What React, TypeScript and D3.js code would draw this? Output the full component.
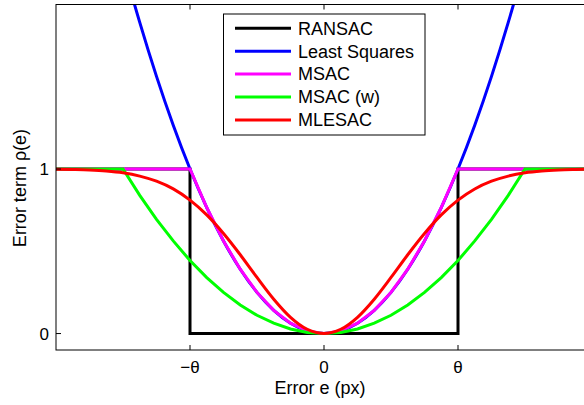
import React from "react";
import * as d3 from "d3";

// Error values e (in units of θ)
const errors = [-2, -1.875, -1.75, -1.625, -1.5, -1.375, -1.25, -1.125, -1, -0.875, -0.75, -0.625, -0.5, -0.375, -0.25, -0.125, 0,
  0.125, 0.25, 0.375, 0.5, 0.625, 0.75, 0.875, 1, 1.125, 1.25, 1.375, 1.5, 1.625, 1.75, 1.875, 2];

const leastSquares = [4, 3.516, 3.063, 2.641, 2.25, 1.891, 1.563, 1.266, 1, 0.766, 0.563, 0.391, 0.25, 0.141, 0.063, 0.016, 0,
  0.016, 0.063, 0.141, 0.25, 0.391, 0.563, 0.766, 1, 1.266, 1.563, 1.891, 2.25, 2.641, 3.063, 3.516, 4];

const msac = [1, 1, 1, 1, 1, 1, 1, 1, 1, 0.766, 0.563, 0.391, 0.25, 0.141, 0.063, 0.016, 0,
  0.016, 0.063, 0.141, 0.25, 0.391, 0.563, 0.766, 1, 1, 1, 1, 1, 1, 1, 1, 1];

const msacW = [1, 1, 1, 1, 1, 0.84, 0.694, 0.563, 0.444, 0.34, 0.25, 0.174, 0.111, 0.063, 0.028, 0.007, 0,
  0.007, 0.028, 0.063, 0.111, 0.174, 0.25, 0.34, 0.444, 0.563, 0.694, 0.84, 1, 1, 1, 1, 1];

const mlesac = [0.999, 0.997, 0.994, 0.988, 0.977, 0.957, 0.926, 0.879, 0.811, 0.721, 0.608, 0.479, 0.341, 0.209, 0.099, 0.026, 0,
  0.026, 0.099, 0.209, 0.341, 0.479, 0.608, 0.721, 0.811, 0.879, 0.926, 0.957, 0.977, 0.988, 0.994, 0.997, 0.999];

const ransacE = [-2, -1, -1, 1, 1, 2];
const ransacV = [1, 1, 0, 0, 1, 1];

const seriesNames = ["RANSAC", "Least Squares", "MSAC", "MSAC (w)", "MLESAC"];
const seriesColors = ["#000000", "#0000ff", "#ff00ff", "#00ff00", "#ff0000"];

const xTickValues = [-1, 0, 1];
const xTickLabels = ["\u2212\u03b8", "0", "\u03b8"];
const yTickValues = [0, 1];
const yTickLabels = ["0", "1"];

const W = 584;
const H = 405;
const left = 56, right = 592, top = 4.5, bottom = 350;

export default function App() {
  const x = d3.scaleLinear().domain([-2, 2]).range([left, right]);
  const y = d3.scaleLinear().domain([-0.1, 2]).range([bottom, top]);
  const line = d3.line<[number, number]>().x((d) => x(d[0])).y((d) => y(d[1]));
  const smooth = d3.line<[number, number]>().x((d) => x(d[0])).y((d) => y(d[1])).curve(d3.curveMonotoneX);

  const zip = (es: number[], vs: number[]) => es.map((e, i) => [e, vs[i]] as [number, number]);
  const paths = [
    line(zip(ransacE, ransacV)),
    smooth(zip(errors, leastSquares)),
    line(zip(errors, msac)),
    line(zip(errors, msacW)),
    smooth(zip(errors, mlesac)),
  ];

  const font = "'Liberation Sans', Arial, Helvetica, sans-serif";
  const legX = 223.5, legY = 14, legW = 201.5, legH = 121;
  const rowY = (i: number) => 28.3 + i * 22.9;

  return (
    <svg width={W} height={H} style={{ position: "absolute", left: 0, top: 0, overflow: "hidden", background: "#fff" }} fontFamily={font}>
      <defs>
        <clipPath id="plotClip">
          <rect x={left} y={top} width={right - left} height={bottom - top} />
        </clipPath>
      </defs>
      <g clipPath="url(#plotClip)" fill="none" strokeLinejoin="miter">
        {paths.map((p, i) => (
          <path key={i} d={p || ""} stroke={seriesColors[i]} strokeWidth={3} />
        ))}
      </g>
      {/* axes box */}
      <rect x={left} y={top} width={right - left} height={bottom - top} fill="none" stroke="#000" strokeWidth={1} />
      {/* x ticks (bottom and top, inward) */}
      {xTickValues.map((v, i) => (
        <g key={"xt" + i}>
          <line x1={x(v)} x2={x(v)} y1={bottom} y2={bottom - 5} stroke="#000" />
          <line x1={x(v)} x2={x(v)} y1={top} y2={top + 5} stroke="#000" />
          <text x={x(v)} y={373} textAnchor="middle" fontSize={17}>{xTickLabels[i]}</text>
        </g>
      ))}
      {yTickValues.map((v, i) => (
        <g key={"yt" + i}>
          <line x1={left} x2={left + 5} y1={y(v)} y2={y(v)} stroke="#000" />
          <text x={49} y={y(v) + 6} textAnchor="end" fontSize={17}>{yTickLabels[i]}</text>
        </g>
      ))}
      <text x={(left + right) / 2 - 4} y={394} textAnchor="middle" fontSize={18}>Error e (px)</text>
      <text transform={`translate(26,188) rotate(-90)`} textAnchor="middle" fontSize={18}>Error term ρ(e)</text>
      {/* legend */}
      <rect x={legX} y={legY} width={legW} height={legH} fill="#fff" stroke="#000" strokeWidth={1} />
      {seriesNames.map((n, i) => (
        <g key={"lg" + i}>
          <line x1={235} x2={291} y1={rowY(i)} y2={rowY(i)} stroke={seriesColors[i]} strokeWidth={3} />
          <text x={298} y={rowY(i) + 6.3} fontSize={18}>{n}</text>
        </g>
      ))}
    </svg>
  );
}
